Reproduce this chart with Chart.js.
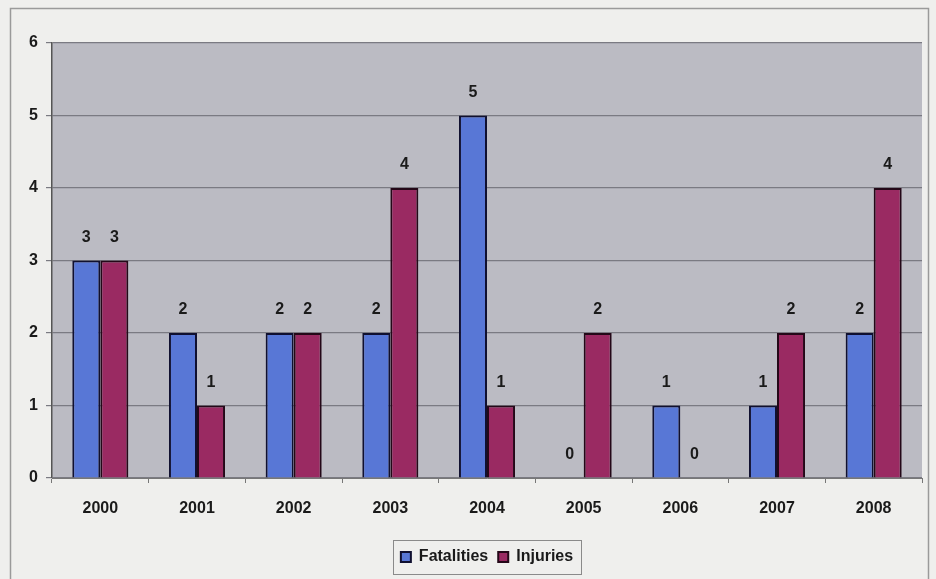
<!DOCTYPE html>
<html>
<head>
<meta charset="utf-8">
<script src="https://cdn.jsdelivr.net/npm/chart.js@4.4.0/dist/chart.umd.min.js"></script>
<style>
  html, body { margin: 0; padding: 0; background: #efefed; }
  #wrap { width: 936px; height: 579px; }
</style>
</head>
<body>
<div id="wrap"><canvas id="c" width="936" height="579"></canvas></div>
<script>
// chart data
const years = ['2000', '2001', '2002', '2003', '2004', '2005', '2006', '2007', '2008'];
const fatalities = [3, 2, 2, 2, 5, 0, 1, 1, 2];
const injuries = [3, 1, 2, 4, 1, 2, 0, 2, 4];
const yTicks = [0, 1, 2, 3, 4, 5, 6];

const FONT = 'Liberation Sans, Arial, sans-serif';

// page background, outer frame and grey plot area
const backdrop = {
    id: 'backdrop',
    afterLayout(chart) {
        // centre the legend under the plot area, as in Excel
        const lg = chart.legend, a = chart.chartArea;
        const shift = (a.left + a.right) / 2 - (lg.left + lg.right) / 2;
        lg.left += shift;
        lg.right += shift;
    },
    beforeDraw(chart) {
        const ctx = chart.ctx, a = chart.chartArea;
        ctx.save();
        ctx.fillStyle = '#efefed';
        ctx.fillRect(0, 0, chart.width, chart.height);
        ctx.strokeStyle = '#9a9a9a';
        ctx.lineWidth = 1.5;
        ctx.strokeRect(10.5, 8.5, chart.width - 18, chart.height + 10);
        ctx.fillStyle = '#bbbbc3';
        ctx.fillRect(a.left, a.top, a.right - a.left, a.bottom - a.top);
        ctx.restore();
    }
};

// value labels above each bar
const valueLabels = {
    id: 'valueLabels',
    afterDatasetsDraw(chart) {
        const ctx = chart.ctx;
        ctx.save();
        ctx.fillStyle = '#1a1a1a';
        ctx.font = 'bold 16px ' + FONT;
        ctx.textAlign = 'center';
        ctx.textBaseline = 'middle';
        chart.data.datasets.forEach((ds, i) => {
            chart.getDatasetMeta(i).data.forEach((bar, j) => {
                ctx.fillText(String(ds.data[j]), bar.x, bar.y - 23);
            });
        });
        ctx.restore();
    }
};

// box round the legend
const legendBox = {
    id: 'legendBox',
    afterDraw(chart) {
        const lg = chart.legend;
        if (!lg || !lg.legendHitBoxes.length) return;
        const hb = lg.legendHitBoxes;
        const x1 = hb[0].left - 8, x2 = hb[hb.length - 1].left + hb[hb.length - 1].width + 8;
        const y1 = hb[0].top - 9, y2 = hb[0].top + hb[0].height + 9;
        const ctx = chart.ctx;
        ctx.save();
        ctx.strokeStyle = '#8a8a8a';
        ctx.lineWidth = 1;
        ctx.strokeRect(Math.round(x1) + 0.5, Math.round(y1) + 0.5, Math.round(x2 - x1), Math.round(y2 - y1));
        ctx.restore();
    }
};

new Chart(document.getElementById('c'), {
    type: 'bar',
    data: {
        labels: years,
        datasets: [
            { label: 'Fatalities', data: fatalities, backgroundColor: '#5877d6', borderColor: '#101030', borderWidth: 2 },
            { label: 'Injuries', data: injuries, backgroundColor: '#9a2a62', borderColor: '#240818', borderWidth: 2 }
        ]
    },
    options: {
        responsive: false,
        animation: false,
        devicePixelRatio: 1,
        layout: { padding: { top: 43, left: 14, right: 14, bottom: 4 } },
        datasets: { bar: { categoryPercentage: 0.58, barPercentage: 1 } },
        plugins: {
            title: { display: false },
            tooltip: { enabled: false },
            legend: {
                position: 'bottom',
                labels: {
                    color: '#1a1a1a',
                    font: { family: FONT, size: 16, weight: 'bold' },
                    boxWidth: 10, boxHeight: 10,
                    padding: 10
                }
            }
        },
        scales: {
            x: {
                offset: true,
                grid: { offset: true, drawOnChartArea: false, color: '#777', tickLength: 5 },
                border: { color: '#777', width: 1 },
                ticks: { color: '#1a1a1a', font: { family: FONT, size: 16, weight: 'bold' }, padding: 16 },
                afterFit(s) { s.height = 61; }
            },
            y: {
                min: 0, max: 6,
                afterBuildTicks(s) { s.ticks = yTicks.map(v => ({ value: v })); },
                grid: { color: '#7a7a82', lineWidth: 1.2, tickLength: 6 },
                border: { color: '#555', width: 1.5 },
                ticks: { color: '#1a1a1a', font: { family: FONT, size: 16, weight: 'bold' }, padding: 8 },
                afterFit(s) { s.width = 38; }
            }
        }
    },
    plugins: [backdrop, valueLabels, legendBox]
});
</script>
</body>
</html>
